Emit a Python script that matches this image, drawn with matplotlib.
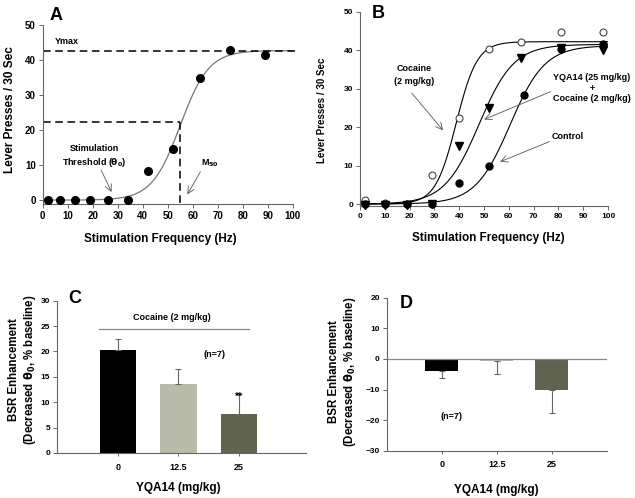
import matplotlib
matplotlib.use("Agg")
import matplotlib.pyplot as plt
import numpy as np

plt.rcParams['font.family'] = ['Liberation Sans', 'DejaVu Sans']
plt.rcParams['font.weight'] = 'bold'
plt.rcParams['mathtext.default'] = 'bf'

# Panel A - one rat, rate-frequency
freqA = [2, 7, 13, 19, 26, 34, 42, 52, 63, 75, 89]
pressA = [0, 0, 0, 0, 0, 0, 8.3, 14.5, 35, 43, 41.5]
ymaxA, m50A, slopeA = 42.7, 55.0, 5.7
halfA = 22.4

# Panel B - group curves
freqB = [2, 10, 19, 29, 40, 52, 65, 81, 98]
cocaine = [1.0, 0.2, 0.0, 7.5, 22.3, 40.3, 42.2, 44.8, 44.8]
yqa_coc = [-0.2, -0.2, -0.2, 0.0, 15.0, 25.0, 38.0, 40.5, 40.0]
freqCtl = [2, 10, 19, 29, 40, 52, 66, 81, 98]
control = [0.0, 0.0, 0.0, 0.0, 5.5, 9.8, 28.3, 40.3, 41.5]
# fitted curve parameters (ymax, m50, slope)
fit_coc = (42.2, 38.8, 4.2)
fit_yqa = (41.5, 48.0, 7.0)
fit_ctl = (41.2, 60.5, 7.0)

# Panels C / D
doses = ['0', '12.5', '25']
bsrC = [20.2, 13.6, 7.7]
errC = [2.3, 2.9, 4.0]
bsrD = [-4.1, -0.8, -10.1]
errD = [2.2, 4.0, 7.5]
bar_colors = ['#000000', '#b9bcaa', '#60634f']


def logistic(x, top, mid, s):
    return top / (1 + np.exp(-(x - mid) / s))


fig = plt.figure(figsize=(6.35, 4.98), dpi=100)
spine_c = '#666666'


def style(ax, size):
    for s in ['top', 'right']:
        ax.spines[s].set_visible(False)
    for s in ['left', 'bottom']:
        ax.spines[s].set_color(spine_c)
        ax.spines[s].set_linewidth(0.8)
    ax.tick_params(direction='out', length=3, width=0.7, color=spine_c, labelsize=size, pad=2)
    for lab in ax.get_xticklabels() + ax.get_yticklabels():
        lab.set_fontweight('bold')


arrow = dict(arrowstyle='->', color='#555555', lw=0.6, mutation_scale=12)

# ---------- A ----------
axA = fig.add_axes([0.0672, 0.5904, 0.394, 0.3594])
xs = np.linspace(0, 100, 300)
axA.plot(xs, logistic(xs, ymaxA, m50A, slopeA), color='#777777', lw=0.9)
axA.plot(freqA, pressA, 'o', color='black', ms=5.5, clip_on=False, zorder=3)
axA.plot([0, 102], [ymaxA, ymaxA], 'k--', lw=1.1, dashes=(5, 3), clip_on=False)
axA.plot([0, m50A], [halfA, halfA], 'k--', lw=1.1, dashes=(5, 3))
axA.plot([m50A, m50A], [halfA, -1.1], 'k--', lw=1.1, dashes=(5, 3))
axA.set_xlim(0, 100)
axA.set_ylim(-1.1, 50)
axA.set_xticks(range(0, 101, 10))
axA.set_yticks(range(0, 51, 10))
style(axA, 7)
axA.text(9.6, 45.2, 'Ymax', fontsize=6.5, ha='center', va='center')
axA.text(20.6, 12.4, 'Stimulation\nThreshold ($\\theta_0$)', fontsize=6.5, ha='center', va='center',
         linespacing=1.3)
axA.annotate('', xy=(28, 1.6), xytext=(22.9, 9.3), arrowprops=arrow)
axA.text(66.9, 10.5, 'M$_{50}$', fontsize=6.5, ha='center', va='center')
axA.annotate('', xy=(57.3, 0.95), xytext=(63.6, 8.8), arrowprops=arrow)

# ---------- B ----------
axB = fig.add_axes([0.567, 0.5865, 0.3906, 0.39])
xs = np.linspace(0, 100, 300)
for p in (fit_coc, fit_yqa, fit_ctl):
    axB.plot(xs, logistic(xs, *p), color='black', lw=0.8)
axB.plot(freqB, cocaine, 'o', mfc='white', mec='#444444', ms=5, mew=0.8, clip_on=False, zorder=3)
axB.plot(freqB, yqa_coc, 'v', color='black', ms=5.5, clip_on=False, zorder=3)
axB.plot(freqCtl, control, 'o', color='black', ms=5, clip_on=False, zorder=3)
axB.set_xlim(0, 100)
axB.set_ylim(-0.5, 50)
axB.set_xticks(range(0, 101, 10))
axB.set_yticks(range(0, 51, 10))
style(axB, 6)
axB.text(22, 33.5, 'Cocaine\n(2 mg/kg)', fontsize=6.5, ha='center', va='center', linespacing=1.5)
axB.annotate('', xy=(34.2, 18.6), xytext=(20.1, 29.4), arrowprops=arrow)
axB.text(93.5, 30.1, 'YQA14 (25 mg/kg)\n+\nCocaine (2 mg/kg)', fontsize=6.5, ha='center',
         va='center', linespacing=1.2)
axB.annotate('', xy=(49, 21.7), xytext=(77.9, 29.5), arrowprops=arrow)
axB.text(83.9, 17.5, 'Control', fontsize=6.5, ha='center', va='center')
axB.annotate('', xy=(55.4, 10.7), xytext=(77.4, 16.5), arrowprops=arrow)

# ---------- C ----------
axC = fig.add_axes([0.0898, 0.0904, 0.392, 0.3058])
pos = np.arange(len(doses))
axC.bar(pos, bsrC, width=0.6, color=bar_colors)
axC.errorbar(pos, bsrC, yerr=[[0, 0, 0], errC], fmt='none', ecolor='#666666',
             elinewidth=0.8, capsize=2, capthick=0.8)
axC.set_xlim(-1.0, 3.1)
axC.set_ylim(0, 30)
axC.set_yticks(range(0, 31, 5))
axC.set_xticks(pos)
axC.set_xticklabels(doses)
style(axC, 6)
axC.tick_params(axis='x', length=2, pad=5, labelsize=6.5)
axC.plot([-0.31, 2.17], [24.4, 24.4], color='#888888', lw=0.9)
axC.text(0.89, 26.6, 'Cocaine (2 mg/kg)', fontsize=6.5, ha='center', va='center')
axC.text(1.6, 19.4, '(n=7)', fontsize=6.5, ha='center', va='center')
axC.text(1.99, 11.0, '**', fontsize=7, ha='center', va='center')

# ---------- D ----------
axD = fig.add_axes([0.609, 0.095, 0.3465, 0.307])
axD.bar(pos, bsrD, width=0.6, color=bar_colors)
axD.errorbar(pos, bsrD, yerr=[errD, [0, 0, 0]], fmt='none', ecolor='#666666',
             elinewidth=0.8, capsize=2, capthick=0.8)
axD.axhline(0, color='#888888', lw=0.9)
axD.set_xlim(-1.0, 3.0)
axD.set_ylim(-30, 20)
axD.set_yticks(range(-30, 21, 10))
axD.set_xticks(pos)
axD.set_xticklabels(doses)
style(axD, 6)
axD.tick_params(axis='x', length=2, pad=5, labelsize=6.5)
axD.text(0.18, -18.7, '(n=7)', fontsize=6.5, ha='center', va='center')

# axis titles and panel letters
fig.text(0.0157, 0.779, 'Lever Presses / 30 Sec', rotation=90, ha='center', va='center', fontsize=8.5)
fig.text(0.252, 0.52, 'Stimulation Frequency (Hz)', ha='center', va='center', fontsize=8.5)
fig.text(0.5076, 0.779, 'Lever Presses / 30 Sec', rotation=90, ha='center', va='center', fontsize=7)
fig.text(0.769, 0.5215, 'Stimulation Frequency (Hz)', ha='center', va='center', fontsize=8.5)
ylabC = 'BSR Enhancement\n(Decreased $\\theta_0$, % baseline)'
fig.text(0.0367, 0.257, ylabC, rotation=90, ha='center', va='center', fontsize=8.3, linespacing=1.2)
fig.text(0.281, 0.0195, 'YQA14 (mg/kg)', ha='center', va='center', fontsize=8.5)
fig.text(0.5406, 0.2536, ylabC, rotation=90, ha='center', va='center', fontsize=8.3, linespacing=1.2)
fig.text(0.782, 0.016, 'YQA14 (mg/kg)', ha='center', va='center', fontsize=8.5)

fig.text(0.089, 0.968, 'A', fontsize=13, ha='center', va='center')
fig.text(0.596, 0.972, 'B', fontsize=13, ha='center', va='center')
fig.text(0.118, 0.401, 'C', fontsize=13, ha='center', va='center')
fig.text(0.640, 0.391, 'D', fontsize=13, ha='center', va='center')

fig.savefig('out.png', dpi=100)
